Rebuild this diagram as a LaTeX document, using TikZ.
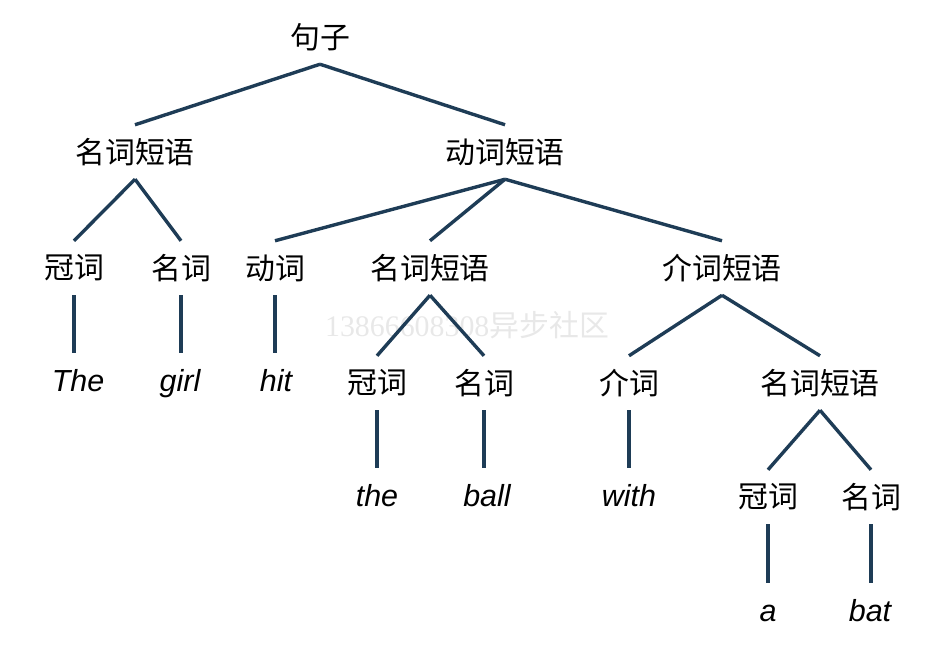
\documentclass[tikz,border=0pt]{standalone}
\usepackage{fontspec}
\setmainfont{Liberation Sans}
\newfontfamily\cjk{Noto Sans CJK SC}
\newfontfamily\markfont{Liberation Serif}
\definecolor{branchblue}{RGB}{30,60,86}

\begin{document}
\begin{tikzpicture}[
      x=0.03cm, y=-0.03cm,
      branch/.style={line width=2.9pt, draw=branchblue},
      phrase/.style={font=\cjk\fontsize{25.5}{30}\selectfont},
      leaf/.style={font=\itshape\fontsize{26}{30}\selectfont, text height=19pt, text depth=0pt},
      every node/.style={inner sep=0pt, minimum height=1.62cm, text=black}
      ]
      \useasboundingbox (0,0) rectangle (934,646);
      \node[text=black!9, font=\fontsize{25.5}{30}\selectfont] (mark) at (467,325) {\markfont 13866608308\cjk 异步社区};

      \node[phrase] (s) at (320,37) {句子};
      \node[phrase] (np) at (135,152) {名词短语};
      \node[phrase] (vp) at (505,152) {动词短语};
      \node[phrase] (det) at (74,268) {冠词};
      \node[phrase] (n) at (181,268) {名词};
      \node[phrase] (v) at (275,268) {动词};
      \node[phrase] (obj) at (430,268) {名词短语};
      \node[phrase] (pp) at (722,268) {介词短语};
      \node[phrase] (objdet) at (377,383) {冠词};
      \node[phrase] (objn) at (484,383) {名词};
      \node[phrase] (p) at (629,383) {介词};
      \node[phrase] (ppnp) at (820,383) {名词短语};
      \node[phrase] (ppdet) at (768,497) {冠词};
      \node[phrase] (ppn) at (871,497) {名词};

      \node[leaf] (the) at (78,380) {The};
      \node[leaf] (girl) at (180,380) {girl};
      \node[leaf] (hit) at (276,380) {hit};
      \node[leaf] (the2) at (377,495) {the};
      \node[leaf] (ball) at (487,495) {ball};
      \node[leaf] (with) at (629,495) {with};
      \node[leaf] (a) at (768,610) {a};
      \node[leaf] (bat) at (870,610) {bat};

      \path(s.south) edge [branch] (np.north);
      \path(s.south) edge [branch] (vp.north);
      \path(np.south) edge [branch] (det.north);
      \path(np.south) edge [branch] (n.north);
      \path(vp.south) edge [branch] (v.north);
      \path(vp.south) edge [branch] (obj.north);
      \path(vp.south) edge [branch] (pp.north);
      \path(obj.south) edge [branch] (objdet.north);
      \path(obj.south) edge [branch] (objn.north);
      \path(pp.south) edge [branch] (p.north);
      \path(pp.south) edge [branch] (ppnp.north);
      \path(ppnp.south) edge [branch] (ppdet.north);
      \path(ppnp.south) edge [branch] (ppn.north);
      \path(det.south) edge [branch] (det.south |- the.north);
      \path(n.south) edge [branch] (n.south |- girl.north);
      \path(v.south) edge [branch] (v.south |- hit.north);
      \path(objdet.south) edge [branch] (objdet.south |- the2.north);
      \path(objn.south) edge [branch] (objn.south |- ball.north);
      \path(p.south) edge [branch] (p.south |- with.north);
      \path(ppdet.south) edge [branch] (ppdet.south |- a.north);
      \path(ppn.south) edge [branch] (ppn.south |- bat.north);
    \end{tikzpicture}
\end{document}
